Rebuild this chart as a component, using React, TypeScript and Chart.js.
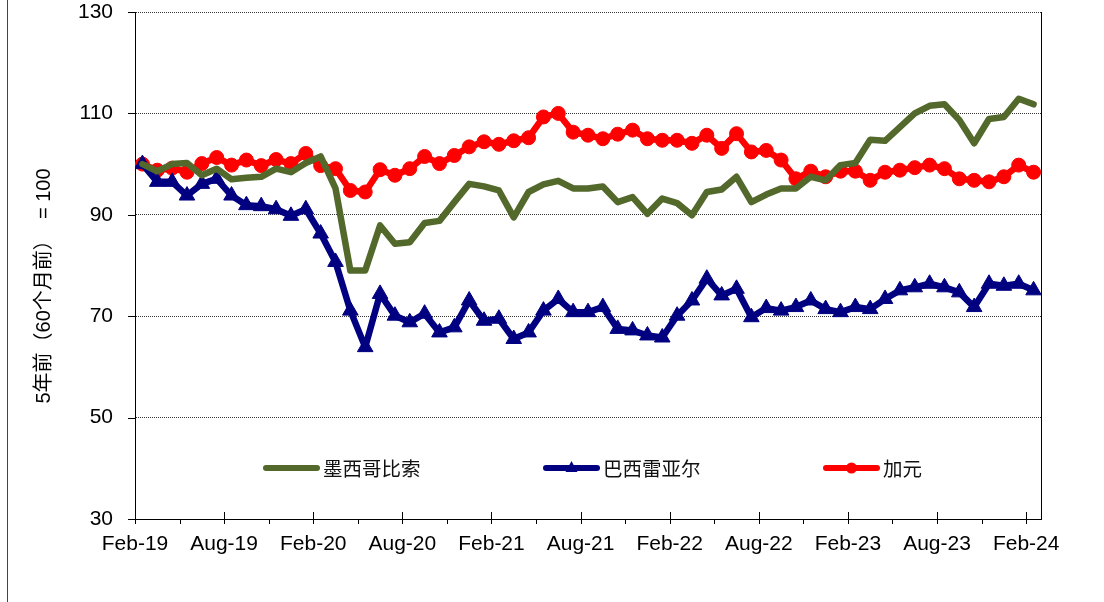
import React, { useEffect, useRef } from "react";
import { Chart, registerables } from "chart.js";

Chart.register(...registerables);

// Monthly observations Feb-19 .. Feb-24 (61 months), index 5 years ago (60 months ago) = 100
const MXN = [
  100, 98.6, 100, 100.2, 97.8, 99.1, 97.0, 97.3, 97.5, 99.1, 98.4, 100.2, 101.5,
  95.2, 79.0, 79.0, 87.9, 84.3, 84.6, 88.4, 88.8, 92.5, 96.1, 95.6, 94.8,
  89.5, 94.5, 96.0, 96.7, 95.2, 95.2, 95.6, 92.5, 93.5, 90.2, 93.2, 92.3,
  89.9, 94.5, 95.0, 97.5, 92.5, 94.0, 95.2, 95.2, 97.5, 96.8, 99.8, 100.2,
  104.8, 104.6, 107.3, 110.0, 111.5, 111.8, 108.7, 104.1, 108.9, 109.3, 112.9, 111.8,
];
const BRL = [
  100, 96.5, 96.5, 93.8, 96.1, 97.1, 93.8, 91.9, 91.7, 91.1, 89.8, 91.1, 86.3,
  80.7, 71.1, 63.9, 74.4, 70.1, 68.8, 70.5, 66.8, 67.8, 73.1, 69.1, 69.5,
  65.5, 66.8, 71.1, 73.4, 70.8, 70.8, 71.8, 67.5, 67.2, 66.2, 65.8, 70.1,
  73.1, 77.4, 74.1, 75.4, 69.8, 71.6, 71.1, 71.8, 73.1, 71.4, 70.8, 71.8,
  71.4, 73.4, 75.1, 75.7, 76.4, 75.7, 74.7, 71.8, 76.4, 76.0, 76.4, 75.1,
];
const CAD = [
  100, 98.8, 99.2, 98.4, 100.1, 101.3, 99.8, 100.8, 99.7, 100.9, 100.1, 102.1, 99.7,
  99.1, 94.8, 94.5, 98.9, 97.8, 99.1, 101.5, 100.1, 101.7, 103.4, 104.4, 103.9,
  104.6, 105.2, 109.3, 110.0, 106.3, 105.7, 105.0, 105.9, 106.7, 105.0, 104.7, 104.7,
  104.1, 105.7, 103.1, 106.0, 102.4, 102.7, 100.8, 97.1, 98.6, 97.5, 98.6, 98.6,
  96.8, 98.4, 98.8, 99.3, 99.8, 99.1, 97.1, 96.8, 96.5, 97.5, 99.8, 98.4,
];
const X_TICK_LABELS = [
  "Feb-19", "Aug-19", "Feb-20", "Aug-20", "Feb-21", "Aug-21",
  "Feb-22", "Aug-22", "Feb-23", "Aug-23", "Feb-24",
];
const SERIES_NAMES = ["墨西哥比索", "巴西雷亚尔", "加元"];
const Y_TITLE = "5年前（60个月前）  = 100";

const GREEN = "#53682B";
const NAVY = "#000080";
const RED = "#FF0000";

const toPoints = (arr: number[]) => arr.map((v, i) => ({ x: i + 0.5, y: v }));

const decorPlugin = {
  id: "decor",
  afterDraw(chart: any) {
    const ctx = chart.ctx as CanvasRenderingContext2D;
    const xs = chart.scales.x;
    const ys = chart.scales.y;
    const { left, right, top, bottom } = chart.chartArea;
    ctx.save();
    ctx.strokeStyle = "#000";
    ctx.lineWidth = 1;
    // right border
    ctx.beginPath();
    ctx.moveTo(Math.round(right) + 0.5, top);
    ctx.lineTo(Math.round(right) + 0.5, bottom);
    ctx.stroke();
    // x ticks
    const yb = Math.round(bottom);
    for (let m = 0; m <= 60; m += 3) {
      const px = Math.round(xs.getPixelForValue(m)) + 0.5;
      ctx.beginPath();
      if (m % 6 === 0) {
        ctx.moveTo(px, yb - 7);
        ctx.lineTo(px, yb + 5);
      } else {
        ctx.moveTo(px, yb);
        ctx.lineTo(px, yb + 5);
      }
      ctx.stroke();
    }
    // y ticks
    for (let v = 30; v <= 130; v += 20) {
      const py = Math.round(ys.getPixelForValue(v)) + 0.5;
      ctx.beginPath();
      ctx.moveTo(left - 7, py);
      ctx.lineTo(left, py);
      ctx.stroke();
    }
    // left page frame line
    ctx.strokeStyle = "#444";
    ctx.beginPath();
    ctx.moveTo(7.5, 0);
    ctx.lineTo(7.5, chart.height);
    ctx.stroke();

    // y title
    ctx.save();
    ctx.translate(44, 286);
    ctx.rotate(-Math.PI / 2);
    ctx.fillStyle = "#000";
    ctx.font = '20px "Liberation Sans", "Noto Sans CJK SC", sans-serif';
    ctx.textAlign = "center";
    ctx.textBaseline = "middle";
    ctx.fillText(Y_TITLE, 0, 0);
    ctx.restore();

    // legend
    const ly = 468;
    const items = [
      { x0: 263, color: GREEN, marker: "none" },
      { x0: 543, color: NAVY, marker: "triangle" },
      { x0: 823, color: RED, marker: "circle" },
    ];
    items.forEach((it, k) => {
      ctx.strokeStyle = it.color;
      ctx.fillStyle = it.color;
      ctx.lineWidth = 6;
      ctx.lineCap = "round";
      ctx.beginPath();
      ctx.moveTo(it.x0 + 3, ly);
      ctx.lineTo(it.x0 + 54, ly);
      ctx.stroke();
      const cx = it.x0 + 28.5;
      if (it.marker === "circle") {
        ctx.beginPath();
        ctx.arc(cx, ly, 5.5, 0, Math.PI * 2);
        ctx.fill();
      } else if (it.marker === "triangle") {
        ctx.beginPath();
        ctx.moveTo(cx, ly - 7);
        ctx.lineTo(cx + 6, ly + 4);
        ctx.lineTo(cx - 6, ly + 4);
        ctx.closePath();
        ctx.fill();
      }
      ctx.fillStyle = "#111";
      ctx.font = '19.5px "Noto Sans CJK SC", sans-serif';
      ctx.textAlign = "left";
      ctx.textBaseline = "middle";
      ctx.fillText(SERIES_NAMES[k], it.x0 + 60, ly + 1);
    });
    ctx.restore();
  },
};

export default function App() {
  const ref = useRef<HTMLCanvasElement | null>(null);
  useEffect(() => {
    if (!ref.current) return;
    const chart = new Chart(ref.current, {
      type: "line",
      data: {
        datasets: [
          {
            label: SERIES_NAMES[0],
            data: toPoints(MXN),
            borderColor: GREEN,
            backgroundColor: GREEN,
            borderWidth: 6.5,
            pointRadius: 0,
            tension: 0,
            borderJoinStyle: "round",
            borderCapStyle: "round",
          },
          {
            label: SERIES_NAMES[1],
            data: toPoints(BRL),
            borderColor: NAVY,
            backgroundColor: NAVY,
            borderWidth: 6.5,
            pointStyle: "triangle",
            pointRadius: 9,
            pointBorderWidth: 1,
            pointBorderColor: NAVY,
            pointBackgroundColor: NAVY,
            tension: 0,
            borderJoinStyle: "round",
          },
          {
            label: SERIES_NAMES[2],
            data: toPoints(CAD),
            borderColor: RED,
            backgroundColor: RED,
            borderWidth: 6.5,
            pointStyle: "circle",
            pointRadius: 7,
            pointBorderWidth: 1,
            pointBorderColor: RED,
            pointBackgroundColor: RED,
            tension: 0,
            borderJoinStyle: "round",
          },
        ],
      },
      options: {
        animation: false,
        responsive: false,
        devicePixelRatio: 1,
        layout: { padding: { left: 0, top: 12, right: 63, bottom: 0 } },
        plugins: { legend: { display: false }, tooltip: { enabled: false }, title: { display: false } },
        scales: {
          x: {
            type: "linear",
            min: 0,
            max: 61,
            afterFit: (s: any) => {
              s.height = 83;
              s.paddingTop = 0;
              s.paddingBottom = 0;
            },
            afterBuildTicks: (s: any) => {
              s.ticks = X_TICK_LABELS.map((_, k) => ({ value: k * 6 }));
            },
            ticks: {
              autoSkip: false,
              maxRotation: 0,
              padding: 13,
              color: "#000",
              font: { family: '"Liberation Sans", Arial, sans-serif', size: 21 },
              callback: (v: any) => {
                const n = Number(v);
                return n % 6 === 0 ? X_TICK_LABELS[n / 6] : "";
              },
            },
            grid: { display: false, drawTicks: false },
            border: { display: true, color: "#000", width: 1 },
          },
          y: {
            min: 30,
            max: 130,
            afterFit: (s: any) => {
              s.width = 135;
              s.paddingTop = 0;
              s.paddingBottom = 0;
            },
            ticks: {
              stepSize: 20,
              padding: 22,
              color: "#000",
              font: { family: '"Liberation Sans", Arial, sans-serif', size: 21, lineHeight: 1 },
            },
            grid: {
              display: true,
              drawTicks: false,
              color: "#333",
              lineWidth: 1,
            },
            border: { display: true, color: "#000", width: 1, dash: [1, 1] },
          },
        },
      },
      plugins: [decorPlugin],
    } as any);
    return () => chart.destroy();
  }, []);
  return (
    <div style={{ position: "fixed", left: 0, top: 0, width: 1104, height: 602, background: "#fff" }}>
      <canvas ref={ref} width={1104} height={602} style={{ width: 1104, height: 602, display: "block" }} />
    </div>
  );
}
